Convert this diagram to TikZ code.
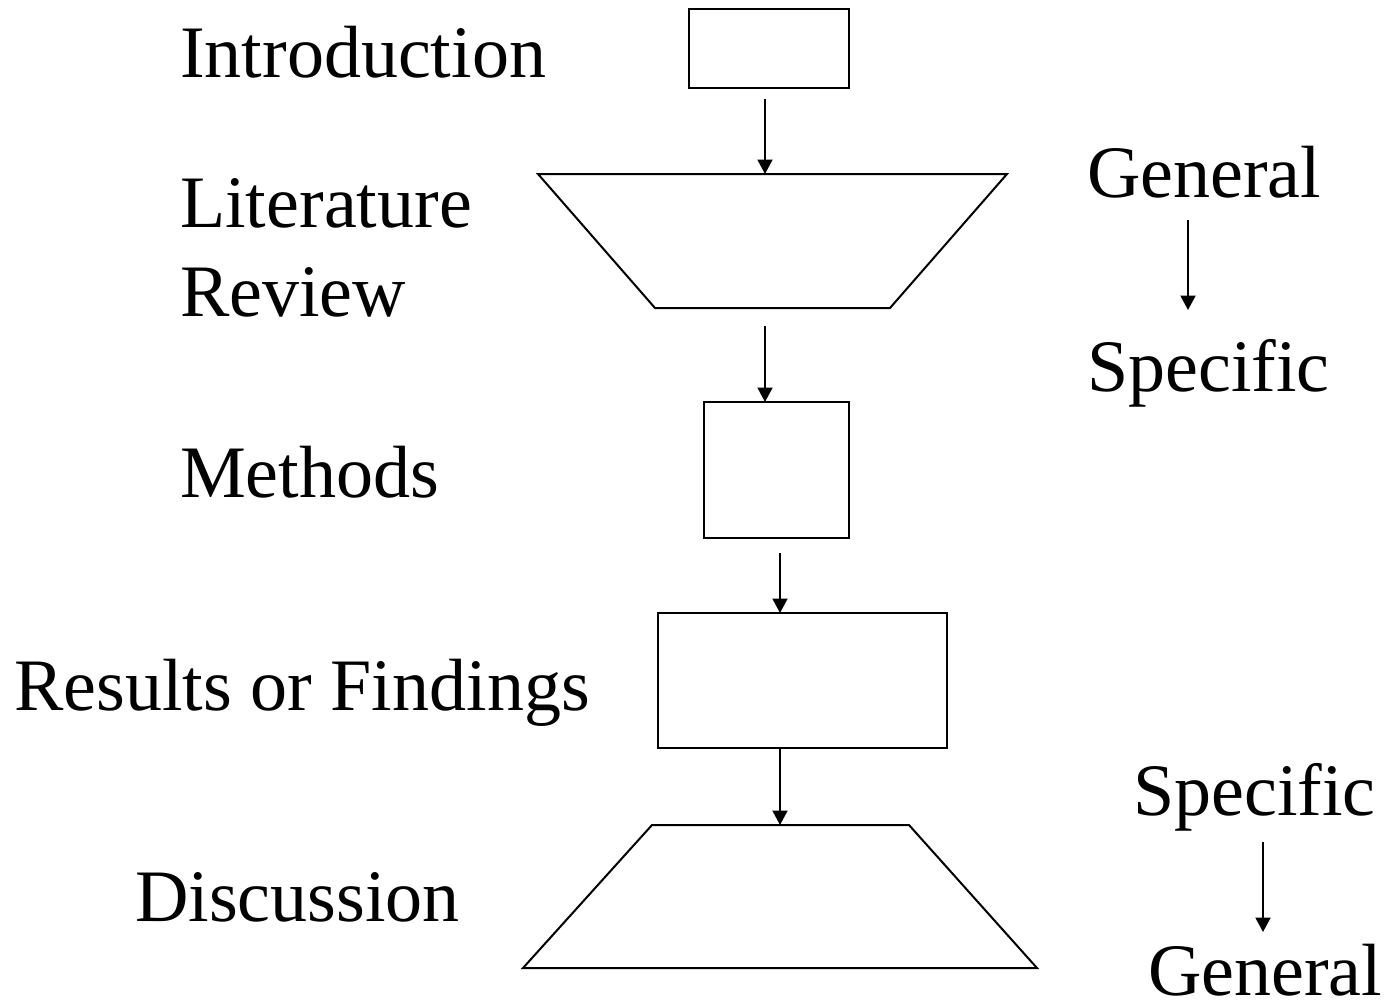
\documentclass[tikz,border=0pt]{standalone}
\usepackage{fontspec}
\setmainfont{Liberation Serif}
\usetikzlibrary{arrows.meta}
\begin{document}
\begin{tikzpicture}[x=1pt,y=-1pt,
  shapeline/.style={draw=black, line width=2pt, line join=miter},
  box/.style={shapeline, rectangle, inner sep=0pt, outer sep=0pt},
  arr/.style={line width=2pt, -{Triangle[length=14.5pt,width=15pt]}},
  label/.style={anchor=base west, inner sep=0pt, font=\fontsize{74}{74}\selectfont}]
\useasboundingbox (0,0) rectangle (1389,1001);
\fill[white] (0,0) rectangle (1389,1001);

% labels
\node[label] (tintro) at (180,77) {Introduction};
\node[label] (tlit) at (180,227) {Literature};
\node[label] (trev) at (180,316) {Review};
\node[label] (tmeth) at (180,497) {Methods};
\node[label] (tres) at (14,710) {Results or Findings};
\node[label] (tdisc) at (135,921) {Discussion};
\node[label] (tgen1) at (1087,197) {General};
\node[label] (tspec1) at (1087,391) {Specific};
\node[label] (tspec2) at (1133,815) {Specific};
\node[label] (tgen2) at (1148,995) {General};

% boxes
\node[box, minimum width=160pt, minimum height=79pt] (intro) at (769,48.5) {};
\node[box, minimum width=145pt, minimum height=136pt] (methods) at (776.5,470) {};
\node[box, minimum width=289pt, minimum height=135pt] (results) at (802.5,680.5) {};

% trapezoids
\draw[shapeline] (538,174) -- (1007,174) -- (890,308) -- (655,308) -- cycle;
\draw[shapeline] (652,825) -- (909,825) -- (1037,968) -- (523,968) -- cycle;
\coordinate (littop) at (765,174);
\coordinate (disctop) at (780,825);

% connector start points
\coordinate (a1s) at (765,99);
\coordinate (a2s) at (765,326);
\coordinate (a3s) at (780,553);
\coordinate (g1s) at (1188,220);
\coordinate (g1e) at (1188,310);
\coordinate (g2s) at (1263,842);
\coordinate (g2e) at (1263,932);

\draw[arr] (a1s) -- (littop);
\draw[arr] (a2s) -- (a2s |- methods.north);
\draw[arr] (a3s) -- (a3s |- results.north);
\draw[arr] (disctop |- results.south) -- (disctop);
\draw[arr] (g1s) -- (g1e);
\draw[arr] (g2s) -- (g2e);
\end{tikzpicture}
\end{document}
